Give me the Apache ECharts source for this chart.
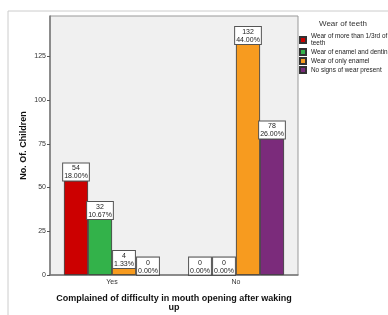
<!DOCTYPE html>
<html>
<head>
<meta charset="utf-8">
<script src="https://cdn.jsdelivr.net/npm/echarts@6/dist/echarts.min.js"></script>
<style>
  html, body { margin: 0; padding: 0; background: #fff; }
  #chartDiv { width: 388px; height: 315px; }
</style>
</head>
<body>
<div id="chartDiv"></div>
<script>
var categories = ["Yes", "No"];
var seriesNames = [
  "Wear of more than 1/3rd of teeth",
  "Wear of enamel and dentin",
  "Wear of only enamel",
  "No signs of wear present"
];
var counts = [
  [54, 0],
  [32, 0],
  [4, 132],
  [0, 78]
];
var percents = [
  ["18.00%", "0.00%"],
  ["10.67%", "0.00%"],
  ["1.33%", "44.00%"],
  ["0.00%", "26.00%"]
];
var colors = ["#cc0000", "#33b24a", "#f79b1f", "#7b2b7b"];
var yTicks = [0, 25, 50, 75, 100, 125];

var myChart = echarts.init(document.getElementById("chartDiv"));

var series = [];
for (var i = 0; i < seriesNames.length; i++) {
  (function (i) {
    series.push({
      name: seriesNames[i],
      type: "bar",
      data: counts[i],
      barWidth: 24,
      barGap: "0%",
      itemStyle: { color: colors[i], borderColor: "#333", borderWidth: 0.8 },
      label: {
        show: true,
        position: "top",
        distance: 0,
        formatter: function (p) {
          return p.value + "\n" + percents[i][p.dataIndex];
        },
        fontFamily: "Liberation Sans",
        fontSize: 7,
        lineHeight: 8,
        color: "#222",
        backgroundColor: "#fff",
        borderColor: "#555",
        borderWidth: 1,
        padding: [1, 1, 0, 1]
      }
    });
  })(i);
}

var option = {
  animation: false,
  textStyle: { fontFamily: "Liberation Sans" },
  title: {
    text: "Wear of teeth",
    left: 319,
    top: 20,
    padding: 0,
    textStyle: { fontSize: 8, fontWeight: "normal", color: "#333" }
  },
  legend: {
    orient: "vertical",
    left: 299,
    top: 33,
    padding: 0,
    itemWidth: 6,
    itemHeight: 6,
    itemGap: 1,
    icon: "rect",
    data: seriesNames,
    formatter: function (name) {
      return name === seriesNames[0] ? "Wear of more than 1/3rd of\nteeth" : name;
    },
    textStyle: { fontSize: 6.4, color: "#222", lineHeight: 7 }
  },
  graphic: [{
    type: "rect",
    shape: { x: 8, y: 11, width: 400, height: 400 },
    style: { fill: "none", stroke: "#ccc", lineWidth: 1 },
    silent: true
  }],
  grid: {
    left: 50,
    top: 16,
    width: 248,
    height: 259,
    outerBoundsMode: "none",
    show: true,
    backgroundColor: "#f0f0f0",
    borderColor: "#999",
    borderWidth: 1
  },
  xAxis: {
    type: "category",
    data: categories,
    name: "Complained of difficulty in mouth opening after waking\nup",
    nameLocation: "middle",
    nameGap: 19,
    nameMoveOverlap: false,
    nameTextStyle: { fontSize: 9, fontWeight: "bold", color: "#111", lineHeight: 9 },
    axisLine: { lineStyle: { color: "#777", width: 1.5 } },
    axisTick: { alignWithLabel: true, length: 3, lineStyle: { color: "#555" } },
    axisLabel: { fontSize: 7, color: "#333", margin: 4 }
  },
  yAxis: {
    type: "value",
    min: 0,
    max: 148,
    interval: 25,
    name: "No. Of. Children",
    nameLocation: "middle",
    nameGap: 22,
    nameMoveOverlap: false,
    nameTextStyle: { fontSize: 9, fontWeight: "bold", color: "#111" },
    splitLine: { show: false },
    axisLine: { show: true, lineStyle: { color: "#777", width: 1.5 } },
    axisTick: { show: true, length: 3, customValues: yTicks, lineStyle: { color: "#555" } },
    axisLabel: {
      fontSize: 7,
      color: "#333",
      margin: 4,
      customValues: yTicks
    }
  },
  series: series
};

myChart.setOption(option);

window.addEventListener("resize", function () {
  myChart.resize();
});
</script>
</body>
</html>
